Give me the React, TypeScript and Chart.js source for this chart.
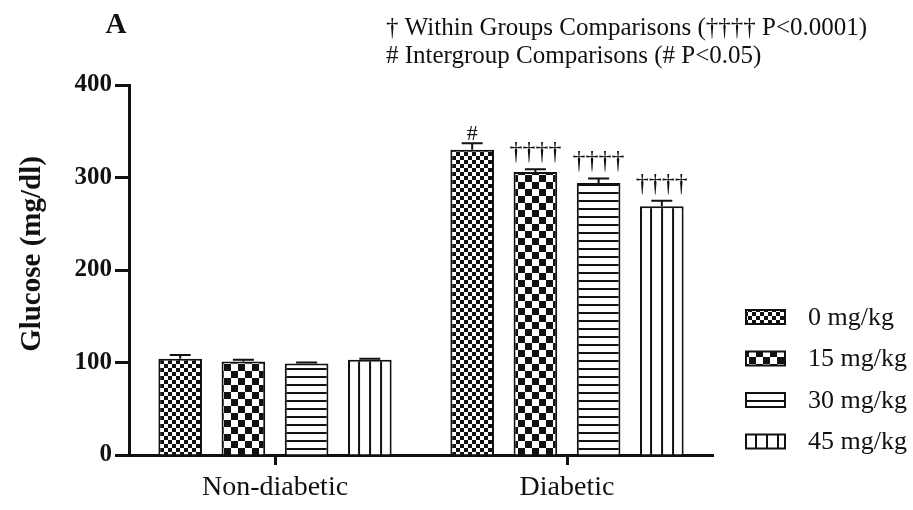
import React, { useEffect, useRef } from "react";
import { Chart, registerables } from "chart.js";

Chart.register(...registerables);

// Groups on the x axis and doses in the legend
const groups = ["Non-diabetic", "Diabetic"];
const doses = ["0 mg/kg", "15 mg/kg", "30 mg/kg", "45 mg/kg"];

// Mean glucose (mg/dl) per dose, in group order
const glucose0 = [104, 330];
const glucose15 = [101, 306];
const glucose30 = [99, 294];
const glucose45 = [103, 269];

// Standard error per dose, in group order
const sem0 = [4, 7];
const sem15 = [2, 3];
const sem30 = [1, 5];
const sem45 = [1, 6];

// Significance marks per dose, in group order
const marks0 = ["", "#"];
const marks15 = ["", "††††"];
const marks30 = ["", "††††"];
const marks45 = ["", "††††"];

const yTicks = [0, 100, 200, 300, 400];

const notes = [
  "† Within Groups Comparisons (†††† P<0.0001)",
  "# Intergroup Comparisons (# P<0.05)",
];

const INK = "#111";
const SERIF = "'Liberation Serif', 'Times New Roman', serif";

function makePattern(kind: string): CanvasPattern | string {
  const c = document.createElement("canvas");
  const g = c.getContext("2d");
  if (!g) return "#fff";
  if (kind === "fine") {
    c.width = 8; c.height = 8;
    g.fillStyle = "#fff"; g.fillRect(0, 0, 8, 8);
    g.fillStyle = INK;
    g.fillRect(0, 0, 4, 4); g.fillRect(4, 4, 4, 4);
  } else if (kind === "coarse") {
    c.width = 14; c.height = 14;
    g.fillStyle = "#fff"; g.fillRect(0, 0, 14, 14);
    g.fillStyle = INK;
    g.fillRect(0, 0, 7, 7); g.fillRect(7, 7, 7, 7);
  } else if (kind === "hlines") {
    c.width = 8; c.height = 8;
    g.fillStyle = "#fff"; g.fillRect(0, 0, 8, 8);
    g.fillStyle = INK; g.fillRect(0, 0, 8, 2);
  } else {
    c.width = 11; c.height = 10;
    g.fillStyle = "#fff"; g.fillRect(0, 0, 11, 10);
    g.fillStyle = INK; g.fillRect(0, 0, 2, 10);
  }
  return g.createPattern(c, "repeat") || "#fff";
}

export default function App() {
  const ref = useRef<HTMLCanvasElement | null>(null);

  useEffect(() => {
    if (!ref.current) return;
    const fills = [makePattern("fine"), makePattern("coarse"), makePattern("hlines"), makePattern("vlines")];
    // one vertical-line pattern per bar so the stripes can start at each bar's left edge
    const vFills = groups.map(() => makePattern("vlines"));
    const legendVFill = makePattern("vlines");
    const values = [glucose0, glucose15, glucose30, glucose45];
    const errors = [sem0, sem15, sem30, sem45];
    const marks = [marks0, marks15, marks30, marks45];

    const shift = (p: any, x: number) => {
      if (p && typeof p.setTransform === "function") {
        p.setTransform(new DOMMatrix().translate(x, 0));
      }
    };

    const decorations = {
      id: "decorations",
      beforeDatasetsDraw(chart: any) {
        const meta = chart.getDatasetMeta(3);
        meta.data.forEach((bar: any, j: number) => {
          const left = bar.x - bar.width / 2;
          shift(vFills[j], left + 10);
        });
      },
      afterDatasetsDraw(chart: any) {
        const ctx = chart.ctx as CanvasRenderingContext2D;
        const y = chart.scales.y;
        ctx.save();
        ctx.strokeStyle = INK;
        ctx.fillStyle = INK;
        ctx.lineWidth = 2;
        values.forEach((series, i) => {
          const meta = chart.getDatasetMeta(i);
          series.forEach((v, j) => {
            const bar = meta.data[j];
            const top = y.getPixelForValue(v);
            const capY = y.getPixelForValue(v + errors[i][j]);
            ctx.beginPath();
            ctx.moveTo(bar.x, top);
            ctx.lineTo(bar.x, capY);
            ctx.moveTo(bar.x - 10.5, capY);
            ctx.lineTo(bar.x + 10.5, capY);
            ctx.stroke();
            const m = marks[i][j];
            if (m) {
              ctx.textAlign = "center";
              ctx.textBaseline = "alphabetic";
              if (m === "#") {
                ctx.font = `22px ${SERIF}`;
                ctx.fillText(m, bar.x, capY - 3);
              } else {
                ctx.font = `26px ${SERIF}`;
                ctx.fillText(m, bar.x, capY - 10);
              }
            }
          });
        });
        ctx.restore();
      },
      afterDraw(chart: any) {
        const ctx = chart.ctx as CanvasRenderingContext2D;
        ctx.save();
        ctx.fillStyle = INK;
        // Panel letter
        ctx.font = `bold 29px ${SERIF}`;
        ctx.textAlign = "center";
        ctx.textBaseline = "alphabetic";
        ctx.fillText("A", 116, 33);
        // Significance notes
        ctx.font = `25px ${SERIF}`;
        ctx.textAlign = "left";
        ctx.fillText(notes[0], 386, 35);
        ctx.fillText(notes[1], 386, 63);
        // Y axis title
        ctx.save();
        ctx.translate(33, 254);
        ctx.rotate(-Math.PI / 2);
        ctx.font = `bold 29px ${SERIF}`;
        ctx.textAlign = "center";
        ctx.textBaseline = "middle";
        ctx.fillText("Glucose (mg/dl)", 0, 0);
        ctx.restore();
        // Legend
        shift(legendVFill, 746 + 9);
        doses.forEach((d, i) => {
          const cy = 317 + i * 41.5;
          ctx.fillStyle = (i === 3 ? legendVFill : fills[i]) as any;
          ctx.fillRect(746, cy - 7, 39, 14);
          ctx.strokeStyle = INK;
          ctx.lineWidth = 2;
          ctx.strokeRect(746, cy - 7, 39, 14);
          ctx.fillStyle = INK;
          ctx.font = `26px ${SERIF}`;
          ctx.textAlign = "left";
          ctx.textBaseline = "middle";
          ctx.fillText(d, 808, cy + 1);
        });
        ctx.restore();
      },
    };

    const chart = new Chart(ref.current, {
      type: "bar",
      data: {
        labels: groups,
        datasets: doses.map((d, i) => ({
          label: d,
          data: values[i],
          backgroundColor: (i === 3 ? vFills : fills[i]) as any,
          borderColor: INK,
          borderWidth: 2,
          categoryPercentage: 0.866,
          barPercentage: 0.69,
        })),
      },
      options: {
        responsive: false,
        maintainAspectRatio: false,
        animation: false,
        devicePixelRatio: 1,
        layout: { padding: { top: 85, right: 200, bottom: 0, left: 0 } },
        plugins: { legend: { display: false }, tooltip: { enabled: false } },
        scales: {
          x: {
            offset: true,
            grid: {
              drawOnChartArea: false,
              drawTicks: true,
              tickLength: 10,
              tickWidth: 3,
              tickColor: INK,
              offset: false,
            },
            border: { color: INK, width: 3 },
            ticks: {
              color: INK,
              font: { family: SERIF, size: 28 },
              padding: 6,
              maxRotation: 0,
            },
            afterFit(scale: any) {
              scale.height = 55;
            },
          },
          y: {
            min: 0,
            max: 400,
            afterBuildTicks(scale: any) {
              scale.ticks = yTicks.map((v) => ({ value: v }));
            },
            grid: {
              drawOnChartArea: false,
              drawTicks: true,
              tickLength: 14,
              tickWidth: 3,
              tickColor: INK,
            },
            border: { color: INK, width: 3 },
            ticks: {
              color: INK,
              font: { family: SERIF, size: 25, weight: "bold" },
              padding: 3,
            },
            afterFit(scale: any) {
              scale.width = 129;
            },
          },
        },
      },
      plugins: [decorations],
    });
    return () => chart.destroy();
  }, []);

  return (
    <div style={{ position: "fixed", left: 0, top: 0, width: 913, height: 510, background: "#fff" }}>
      <canvas ref={ref} width={913} height={510} />
    </div>
  );
}
